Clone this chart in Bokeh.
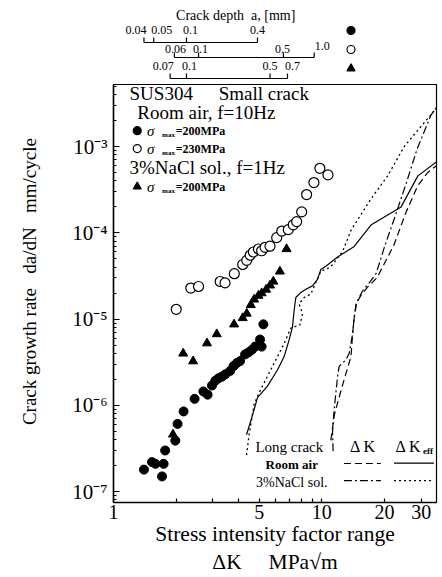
from bokeh.plotting import figure
from bokeh.models import Range1d, FixedTicker, CustomJSTickFormatter
from bokeh.layouts import column
from bokeh.core.properties import value
from bokeh.embed import file_html
from bokeh.resources import INLINE

SERIF = "Liberation Serif"

# ---------------- data ----------------
# Small crack, room air, sigma_max = 200 MPa  (filled circles)
air200_dk = [1.40, 1.53, 1.59, 1.71, 1.74, 1.77, 1.98, 2.03, 2.17, 2.45, 2.70, 2.83, 2.97, 3.08,
             3.19, 3.31, 3.44, 3.63, 3.77, 3.91, 4.05, 4.28, 4.44, 4.61, 4.78, 5.05, 5.14, 5.24]
air200_rate = [1.8e-7, 2.2e-7, 2.1e-7, 1.5e-7, 2.1e-7, 3.0e-7, 3.9e-7, 6.1e-7, 8.5e-7, 1.19e-6,
               1.45e-6, 1.33e-6, 1.70e-6, 1.93e-6, 2.06e-6, 2.15e-6, 2.29e-6, 2.51e-6, 2.86e-6,
               3.1e-6, 3.26e-6, 3.9e-6, 4.1e-6, 4.4e-6, 4.8e-6, 5.8e-6, 4.8e-6, 8.7e-6]
# Small crack, room air, sigma_max = 230 MPa  (open circles)
air230_dk = [2.00, 2.35, 2.56, 3.25, 3.43, 3.80, 4.17, 4.36, 4.53, 4.69, 4.96, 5.14, 5.34, 5.64,
             6.07, 6.42, 6.90, 7.29, 7.57, 8.00, 8.45, 9.16, 9.78, 10.7]
air230_rate = [1.30e-5, 2.29e-5, 2.39e-5, 2.73e-5, 2.63e-5, 3.36e-5, 4.3e-5, 4.8e-5, 5.5e-5,
               6.0e-5, 6.5e-5, 6.2e-5, 6.8e-5, 7.0e-5, 8.8e-5, 1.05e-4, 1.09e-4, 1.24e-4,
               1.35e-4, 1.75e-4, 2.78e-4, 3.83e-4, 5.6e-4, 4.7e-4]
# Small crack, 3% NaCl, sigma_max = 200 MPa  (triangles)
nacl200_dk = [1.93, 2.16, 2.41, 2.81, 3.13, 3.79, 4.17, 4.36, 4.56, 4.73, 4.96, 5.14, 5.40, 5.64,
              5.85, 6.29, 6.77]
nacl200_rate = [4.6e-7, 4.0e-6, 3.25e-6, 5.25e-6, 6.7e-6, 8.7e-6, 1.03e-5, 1.16e-5, 1.46e-5,
                1.69e-5, 1.87e-5, 2.0e-5, 2.2e-5, 2.46e-5, 2.73e-5, 3.57e-5, 6.5e-5]

# Long crack curves
air_eff_dk = [4.35, 4.64, 4.91, 5.48, 6.13, 6.59, 6.96, 7.23, 7.36, 7.50, 7.93, 8.38, 9.02, 9.53,
              9.89, 10.45, 11.9, 14.3, 17.2, 24.0, 28.9, 35.9]
air_eff_rate = [4.56e-7, 7.59e-7, 1.23e-6, 1.67e-6, 2.59e-6, 3.68e-6, 5.71e-6, 8.11e-6, 1.26e-5,
                1.78e-5, 2.04e-5, 2.22e-5, 2.43e-5, 2.89e-5, 3.76e-5, 4.11e-5, 5.25e-5, 6.95e-5,
                1.23e-4, 2.0e-4, 4.58e-4, 6.79e-4]
nacl_eff_dk = [4.35, 4.47, 4.73, 5.09, 5.90, 6.59, 7.10, 7.84, 8.08, 7.78, 8.22, 8.85, 9.89, 10.84,
               11.25, 12.58, 13.8, 17.2, 20.7, 24.9, 29.9, 35.9]
nacl_eff_rate = [2.65e-7, 4.48e-7, 1.04e-6, 1.53e-6, 3.08e-6, 5.22e-6, 7.89e-6, 8.53e-6, 1.15e-5,
                 1.50e-5, 1.78e-5, 1.95e-5, 3.60e-5, 3.93e-5, 4.28e-5, 6.09e-5, 1.07e-4, 2.48e-4,
                 4.58e-4, 1.01e-3, 1.71e-3, 2.89e-3]
air_dk_dk = [11.05, 11.46, 11.67, 12.8, 13.8, 14.05, 14.3, 14.7, 15.4, 16.5, 18.4, 22.1, 25.3,
             28.8, 32.2, 36.1]
air_dk_rate = [3.93e-7, 7.59e-7, 9.06e-7, 2.0e-6, 3.68e-6, 6.79e-6, 1.05e-5, 1.56e-5, 1.88e-5,
               2.32e-5, 3.02e-5, 7.1e-5, 1.71e-4, 3.49e-4, 5.01e-4, 6.22e-4]
nacl_dk_dk = [11.33, 11.25, 11.46, 11.9, 12.11, 13.04, 13.53, 14.05, 14.3, 14.6, 15.1, 15.7, 16.9,
              18.2, 20.1, 22.7, 25.6, 28.6, 33.4, 36.1]
nacl_dk_rate = [2.94e-7, 4.89e-7, 9.06e-7, 2.17e-6, 2.83e-6, 3.37e-6, 4.01e-6, 6.79e-6, 1.05e-5,
                1.50e-5, 1.78e-5, 2.13e-5, 2.65e-5, 3.36e-5, 7.19e-5, 1.67e-4, 3.98e-4, 9.25e-4,
                2.32e-3, 3.02e-3]

# Crack depth scales (depth label, corresponding Delta K)
depth_air200 = ["0.04", "0.05", "0.1", "0.4"]
depth_air200_dk = [1.40, 1.56, 2.24, 4.91]
depth_air230 = ["0.06", "0.1", "0.5", "1.0"]
depth_air230_dk = [1.96, 2.56, 6.54, 9.19]
depth_nacl200 = ["0.07", "0.1", "0.5", "0.7"]
depth_nacl200_dk = [1.87, 2.24, 5.64, 6.84]

x_tick_values = [1, 2, 3, 4, 5, 6, 7, 8, 9, 10, 20, 30]
x_tick_labels = ["1", "", "", "", "5", "", "", "", "", "10", "20", "30"]
y_tick_values = [1e-7, 1e-6, 1e-5, 1e-4, 1e-3]
y_minor_values = [m * 10.0 ** e for e in range(-8, -2) for m in range(2, 10)]

# ---------------- layout ----------------
X_RANGE = Range1d(1.0, 35.5)
NB = "\u00a0"
DOT = "2 3"
DASH = "7 4"
DASHDOT = "8 3 2 3"

# ---- top panel: crack depth scales ----
pt = figure(width=442, height=80, x_axis_type="log", x_range=X_RANGE, y_range=Range1d(80, 0),
            output_backend="svg", toolbar_location=None, x_axis_location=None,
            y_axis_location=None, min_border_left=113, min_border_right=6, min_border_top=0,
            min_border_bottom=0, outline_line_color=None)
pt.grid.visible = False

pt.text(x=[3.86], y=[15], text=["Crack depth" + NB * 2 + "a, [mm]"], text_font=value(SERIF),
        text_font_size="14px", text_align="center", text_baseline="middle", text_color="black")

rows = [
    (depth_air200, depth_air200_dk, 29, 42, [-8, 8, 4, 0], [0, 0, 0, 0]),
    (depth_air230, depth_air230_dk, 48, 57, [1, 2, -1, 8], [0, 0, 0, -3]),
    (depth_nacl200, depth_nacl200_dk, 65, 78, [-7, 3, 0, 5], [0, 0, 0, 0]),
]
for labels, dks, ly, lline, offs, yoffs in rows:
    n = len(dks)
    pt.text(x=dks, y=[ly] * n, text=labels, x_offset=offs, y_offset=yoffs, text_font=value(SERIF),
            text_font_size="12px", text_align="center", text_baseline="middle", text_color="black")
    pt.segment(x0=[dks[0]], y0=[lline], x1=[dks[-1]], y1=[lline], line_color="black", line_width=1.2)
    pt.segment(x0=dks, y0=[lline] * n, x1=dks, y1=[lline - 5] * n, line_color="black", line_width=1.2)

pt.scatter(x=[13.8, 13.8, 13.8], y=[30, 49, 68], marker=["circle", "circle", "triangle"],
           fill_color=["black", "white", "black"], line_color="black", line_width=1.2, size=8)

# ---- main panel ----
p = figure(width=442, height=497, x_axis_type="log", y_axis_type="log", x_range=X_RANGE,
           y_range=Range1d(10 ** -7.126, 10 ** -2.28), output_backend="svg",
           toolbar_location=None, min_border_left=113, min_border_right=6, min_border_top=4,
           min_border_bottom=69, outline_line_color="black", outline_line_width=1.2)
p.grid.visible = False

p.xaxis.ticker = FixedTicker(ticks=x_tick_values, minor_ticks=[])
p.xaxis.formatter = CustomJSTickFormatter(
    args=dict(vals=x_tick_values, labs=x_tick_labels),
    code="const i = vals.findIndex(v => Math.abs(v - tick) < 1e-6 * v); return i >= 0 ? labs[i] : '';")
p.yaxis.ticker = FixedTicker(ticks=y_tick_values, minor_ticks=y_minor_values)
p.yaxis.formatter = CustomJSTickFormatter(code="""
const e = Math.round(Math.log10(tick));
const sup = {'-': '\u207b', '0': '\u2070', '1': '\u00b9', '2': '\u00b2', '3': '\u00b3', '4': '\u2074',
             '5': '\u2075', '6': '\u2076', '7': '\u2077', '8': '\u2078', '9': '\u2079'};
return '10' + String(e).split('').map(c => sup[c]).join('');
""")

for ax in (p.xaxis[0], p.yaxis[0]):
    ax.major_tick_out = 0
    ax.minor_tick_out = 0
    ax.major_label_text_font = SERIF
    ax.major_label_text_font_size = "20px"
    ax.axis_label_text_font = SERIF
    ax.axis_label_text_font_style = "normal"
    ax.axis_line_width = 1.5
    ax.major_tick_line_width = 1.2
    ax.minor_tick_line_width = 1.0
    ax.axis_line_color = "black"
    ax.major_label_text_color = "black"
    ax.axis_label_text_color = "black"

p.xaxis.axis_label_text_font_size = "21.5px"
p.yaxis.axis_label_text_font_size = "19px"
p.yaxis.major_label_text_font_size = "21px"
p.xaxis.major_tick_in = 4
p.yaxis.major_tick_in = 6
p.yaxis.minor_tick_in = 3
p.xaxis.major_label_standoff = 2
p.yaxis.major_label_standoff = 6
p.xaxis.axis_label = "Stress intensity factor range\n\u0394K" + NB * 5 + "MPa\u221am"
p.xaxis.axis_label_standoff = 0
p.yaxis.axis_label = (NB * 5 + "Crack growth rate" + NB * 3 + "da/dN" + NB * 3 + "mm/cycle")
p.yaxis.axis_label_standoff = 29

# long crack curves
p.line(air_eff_dk, air_eff_rate, line_color="black", line_width=1.2)
p.line(nacl_eff_dk, nacl_eff_rate, line_color="black", line_width=1.3, line_dash=DOT)
p.line(air_dk_dk, air_dk_rate, line_color="black", line_width=1.2, line_dash=DASH)
p.line(nacl_dk_dk, nacl_dk_rate, line_color="black", line_width=1.2, line_dash=DASHDOT)

# small crack data
p.scatter(air200_dk, air200_rate, marker="circle", size=9, fill_color="black", line_color="black")
p.scatter(air230_dk, air230_rate, marker="circle", size=10, fill_color="white",
          line_color="black", line_width=1.2)
p.scatter(nacl200_dk, nacl200_rate, marker="triangle", size=9, fill_color="black",
          line_color="black")

# in-plot texts
def txt(x, y, s, size, align="left", style="normal", yoff=0):
    p.text(x=[x], y=[y], text=[s], text_font=value(SERIF), text_font_size=size,
           text_align=align, text_baseline="middle", text_font_style=style, y_offset=yoff,
           text_color="black")

txt(1.194, 4.14e-3, "SUS304", "19px")
txt(3.20, 4.14e-3, "Small crack", "19px")
txt(1.30, 2.51e-3, "Room air, f=10Hz", "19px")
txt(1.194, 5.75e-4, "3%NaCl sol., f=1Hz", "19px")

leg_y = [1.53e-3, 9.48e-4, 3.43e-4]
leg_txt = ["=200MPa", "=230MPa", "=200MPa"]
p.scatter(x=[1.30] * 3, y=leg_y, marker=["circle", "circle", "triangle"],
          fill_color=["black", "white", "black"], line_color="black", line_width=1.2, size=8)
for yy, s in zip(leg_y, leg_txt):
    txt(1.45, yy, "\u03c3", "15px", style="italic")
    txt(1.71, yy, "max", "7px", style="bold", yoff=4)
    txt(1.99, yy, s, "12px", style="bold")

# long crack legend
txt(6.98, 3.30e-7, "Long crack", "15px", align="center")
txt(15.74, 3.30e-7, "\u0394 K", "16px", align="center")
txt(26.05, 3.30e-7, "\u0394 K", "16px", align="center")
txt(30.6, 3.30e-7, "eff", "9px", style="bold", yoff=4)
txt(7.17, 2.09e-7, "Room air", "13px", align="center", style="bold")
txt(7.17, 1.27e-7, "3%NaCl sol.", "14px", align="center")
p.line([12.76, 19.2], [2.12e-7, 2.12e-7], line_color="black", line_width=1.2, line_dash=DASH)
p.line([22.2, 34.5], [2.14e-7, 2.14e-7], line_color="black", line_width=1.2)
p.line([12.76, 19.2], [1.34e-7, 1.34e-7], line_color="black", line_width=1.2, line_dash=DASHDOT)
p.line([22.2, 34.5], [1.34e-7, 1.34e-7], line_color="black", line_width=1.3, line_dash=DOT)

layout = column(pt, p)
open("out.html", "w").write(file_html(layout, INLINE))
